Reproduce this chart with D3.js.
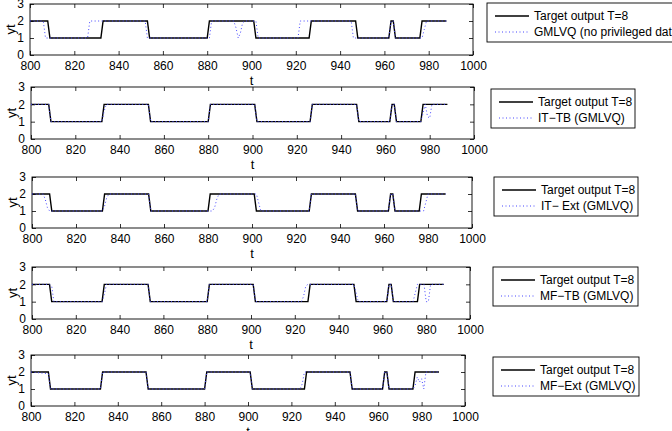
<!DOCTYPE html>
<html>
<head>
<meta charset="utf-8">
<script src="https://cdn.jsdelivr.net/npm/d3@7"></script>
<style>
  html, body { margin: 0; padding: 0; background: #fff; }
  svg { display: block; font-family: "Liberation Sans", Arial, Helvetica, sans-serif; }
</style>
</head>
<body>
<svg id="chart" width="672" height="431"></svg>
<script>
// ---------- DATA ----------
const xTicks = [800, 820, 840, 860, 880, 900, 920, 940, 960, 980, 1000];
const yTicks = [0, 1, 2, 3];
const targetLabel = "Target output T=8";
const seriesLabels = ["GMLVQ (no privileged data)", "IT\u2212TB (GMLVQ)", "IT\u2212 Ext (GMLVQ)", "MF\u2212TB (GMLVQ)", "MF\u2212Ext (GMLVQ)"];

// Target output (corner points of the square wave)
const targetT = [800,808,809,832,833,853,854,880,881,901,902,926,927,947,948,962,963,964,965,976,977,988];
const targetY = [2,2,1,1,2,2,1,1,2,2,1,1,2,2,1,1,2,2,1,1,2,2];

// GMLVQ (no privileged data)
const pred1T = [800,806,807,826,827,852,853,881,882,892,893,894,895,896,897,902,903,921,922,945,946,962,963,964,965,977,978,979,988];
const pred1Y = [2,2,1,1,2,2,1,1,2,2,1.6,1,1.3,1.9,2,2,1,1,2,2,1,1,2,2,1,1,1.5,2,2];

// IT-TB (GMLVQ)
const pred2T = [800,808,809,832,833,834,853,854,880,881,901,902,926,927,947,948,962,963,964,965,976,977,978,979,980,981,988];
const pred2Y = [2,2,1,1,1.6,2,2,1,1,2,2,1,1,2,2,1,1,2,2,1,1,1.5,2,1.3,1.2,2,2];

// IT- Ext (GMLVQ)
const pred3T = [800,805,806,807,808,832,833,834,835,853,854,880,882,883,884,885,902,903,904,926,927,947,948,962,963,964,965,976,978,979,980,988];
const pred3Y = [2,2,1.7,1.2,1,1,1.3,1.8,2,2,1,1,1,1.2,1.7,2,2,1.5,1,1,2,2,1,1,2,2,1,1,1,1.5,2,2];

// MF-TB (GMLVQ)
const pred4T = [800,808,809,810,832,833,834,853,854,880,881,901,902,923,924,925,926,947,948,949,962,963,964,965,974,975,976,979,980,981,982,988];
const pred4Y = [2,2,1.9,1,1,1.4,2,2,1,1,2,2,1,1,1.3,1.9,2,2,1.5,1,1,2,2,1,1,1.5,2,2,1,1,2,2];

// MF-Ext (GMLVQ)
const pred5T = [800,808,809,832,833,853,854,880,881,901,902,924,925,926,947,948,962,963,964,965,976,977,978,979,980,981,982,988];
const pred5Y = [2,1.9,1,1,2,2,1,1,2,2,1,1,1.3,2,2,1,1,2,2,1,1,1.2,1.7,1.4,1.6,1,2,2];

const predT = [pred1T, pred2T, pred3T, pred4T, pred5T];
const predY = [pred1Y, pred2Y, pred3Y, pred4Y, pred5Y];

// ---------- LAYOUT ----------
const layout = [
  {l:30, r:473, t:4,   b:55,  lx:487, ly:3,   lw:215},
  {l:31, r:474, t:87,  b:139, lx:491, ly:89,  lw:144},
  {l:32, r:472, t:177, b:228, lx:494, ly:177, lw:144},
  {l:32, r:470, t:267, b:319, lx:493, ly:267, lw:145},
  {l:31, r:465, t:355, b:406, lx:493, ly:357, lw:146}
];

const svg = d3.select("#chart");
const zip = (ts, vs) => ts.map((t, i) => ({t, v: vs[i]}));
const targetData = zip(targetT, targetY);

layout.forEach((L, i) => {
  const x = d3.scaleLinear().domain([800, 1000]).range([L.l, L.r]);
  const y = d3.scaleLinear().domain([0, 3]).range([L.b, L.t]);
  const g = svg.append("g");

  // axes (ticks inward, MATLAB style)
  const styleAxis = sel => {
    sel.select(".domain").remove();
    sel.selectAll(".tick line").attr("stroke", "#000").attr("stroke-width", 0.8);
    sel.selectAll(".tick text").attr("fill", "#000").style("font-size", "12px");
  };
  g.append("g").attr("transform", `translate(0,${L.b})`)
    .call(d3.axisBottom(x).tickValues(xTicks).tickSize(-4).tickPadding(6).tickFormat(d3.format("d")))
    .call(styleAxis);
  g.append("g").attr("transform", `translate(0,${L.t})`)
    .call(d3.axisTop(x).tickValues(xTicks).tickSize(-4).tickFormat(""))
    .call(styleAxis);
  g.append("g").attr("transform", `translate(${L.l},0)`)
    .call(d3.axisLeft(y).tickValues(yTicks).tickSize(-4).tickPadding(6).tickFormat(d3.format("d")))
    .call(styleAxis);
  g.append("g").attr("transform", `translate(${L.r},0)`)
    .call(d3.axisRight(y).tickValues(yTicks).tickSize(-4).tickFormat(""))
    .call(styleAxis);

  g.append("rect")
    .attr("x", L.l).attr("y", L.t)
    .attr("width", L.r - L.l).attr("height", L.b - L.t)
    .attr("fill", "none").attr("stroke", "#000").attr("stroke-width", 0.9);

  const line = d3.line().x(d => x(d.t)).y(d => y(d.v));

  g.append("path").datum(targetData)
    .attr("d", line).attr("fill", "none")
    .attr("stroke", "#000").attr("stroke-width", 1.4);

  g.append("path").datum(zip(predT[i], predY[i]))
    .attr("d", line).attr("fill", "none")
    .attr("stroke", "#4646ff").attr("stroke-width", 1)
    .attr("stroke-dasharray", "1,2.5");

  // axis labels
  g.append("text")
    .attr("transform", `translate(${L.l - 20},${(L.t + L.b) / 2}) rotate(-90)`)
    .attr("text-anchor", "middle").attr("dy", "0.35em")
    .style("font-size", "13px").text("yt");
  g.append("text")
    .attr("x", (L.l + L.r) / 2).attr("y", L.b + 25)
    .attr("text-anchor", "middle").attr("dy", "0.35em")
    .style("font-size", "13px").text("t");

  // legend
  const lg = svg.append("g").attr("transform", `translate(${L.lx},${L.ly})`);
  lg.append("rect").attr("x", 0).attr("y", 0).attr("width", L.lw).attr("height", 39)
    .attr("fill", "#fff").attr("stroke", "#000").attr("stroke-width", 0.9);
  lg.append("line").attr("x1", 8).attr("x2", 42).attr("y1", 13).attr("y2", 13)
    .attr("stroke", "#000").attr("stroke-width", 1.4);
  lg.append("line").attr("x1", 8).attr("x2", 42).attr("y1", 29).attr("y2", 29)
    .attr("stroke", "#4646ff").attr("stroke-width", 1).attr("stroke-dasharray", "1,2.5");
  lg.append("text").attr("x", 47).attr("y", 13).attr("dy", "0.35em")
    .style("font-size", "12px").text(targetLabel);
  lg.append("text").attr("x", 47).attr("y", 29).attr("dy", "0.35em")
    .style("font-size", "12px").text(seriesLabels[i]);
});
</script>
</body>
</html>
